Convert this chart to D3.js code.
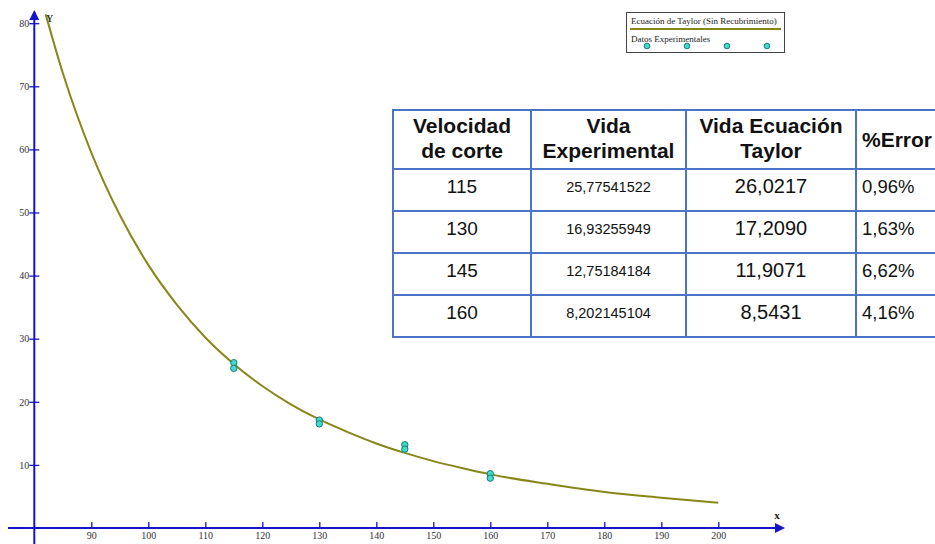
<!DOCTYPE html>
<html>
<head>
<meta charset="utf-8">
<script src="https://cdn.jsdelivr.net/npm/d3@7"></script>
<style>
  body { margin: 0; background: #fff; }
  svg { display: block; }
</style>
</head>
<body>
<div id="chart"></div>
<script>
// curve (Taylor equation, no coating)
const curveV = [82, 85, 90, 95, 100, 105, 110, 115, 120, 125, 130, 135, 140, 145, 150, 155, 160, 170, 180, 190, 200];
const curveT = [81.4, 72.1, 59.5, 49.6, 41.7, 35.4, 30.2, 26.0, 22.5, 19.6, 17.2, 15.2, 13.4, 11.9, 10.6, 9.5, 8.5, 7.0, 5.7, 4.8, 4.0];

// experimental points (two dots per speed)
const expV = [115, 115, 130, 130, 145, 145, 160, 160];
const expT = [26.2, 25.3, 17.1, 16.5, 13.2, 12.5, 8.6, 7.9];

const xTicks = [90, 100, 110, 120, 130, 140, 150, 160, 170, 180, 190, 200];
const yTicks = [10, 20, 30, 40, 50, 60, 70, 80];

// table
const tableHeader = [["Velocidad", "de corte"], ["Vida", "Experimental"], ["Vida Ecuación", "Taylor"], ["%Error"]];
const velocidad = ["115", "130", "145", "160"];
const vidaExperimental = ["25,77541522", "16,93255949", "12,75184184", "8,202145104"];
const vidaTaylor = ["26,0217", "17,2090", "11,9071", "8,5431"];
const error = ["0,96%", "1,63%", "6,62%", "4,16%"];

const legendLine = "Ecuación de Taylor (Sin Recubrimiento)";
const legendDots = "Datos Experimentales";

const W = 935, H = 544;
const axisColor = "#1414c8";
const curveColor = "#878719";
const serif = "'Liberation Serif', 'Times New Roman', serif";
const sans = "'Liberation Sans', Arial, sans-serif";

const svg = d3.select("#chart").append("svg")
    .attr("width", W)
    .attr("height", H);

const x = d3.scaleLinear().domain([80, 200]).range([34.3, 718.3]);
const y = d3.scaleLinear().domain([0, 80]).range([528, 23.2]);

// axis arrows
const defs = svg.append("defs");
defs.append("marker")
    .attr("id", "arrow")
    .attr("viewBox", "0 0 10 10")
    .attr("refX", 8).attr("refY", 5)
    .attr("markerWidth", 5).attr("markerHeight", 5)
    .attr("orient", "auto")
    .append("path")
    .attr("d", "M0,0L10,5L0,10z")
    .attr("fill", axisColor);

svg.append("line")
    .attr("x1", x(80)).attr("x2", x(80))
    .attr("y1", H).attr("y2", 12)
    .attr("stroke", axisColor).attr("stroke-width", 2)
    .attr("marker-end", "url(#arrow)");

svg.append("line")
    .attr("x1", 8).attr("x2", 783)
    .attr("y1", y(0)).attr("y2", y(0))
    .attr("stroke", axisColor).attr("stroke-width", 2)
    .attr("marker-end", "url(#arrow)");

// y axis ticks
const gy = svg.append("g")
    .attr("transform", `translate(${x(80)},0)`)
    .call(d3.axisLeft(y).tickValues(yTicks).tickSize(5).tickPadding(0));
gy.select(".domain").remove();
gy.selectAll(".tick line").attr("x1", 5).attr("stroke", axisColor).attr("stroke-width", 1.3);
gy.selectAll(".tick text")
    .style("font-family", serif).style("font-size", "10px").attr("fill", "#333");

// x axis ticks
const gx = svg.append("g")
    .attr("transform", `translate(0,${y(0)})`)
    .call(d3.axisBottom(x).tickValues(xTicks).tickSize(-6).tickPadding(4));
gx.select(".domain").remove();
gx.selectAll(".tick line").attr("stroke", axisColor).attr("stroke-width", 1.3);
gx.selectAll(".tick text")
    .style("font-family", serif).style("font-size", "10px").attr("fill", "#333");

// axis names
svg.append("text")
    .attr("x", 46).attr("y", 22)
    .style("font-family", serif).style("font-size", "10px").style("font-weight", "bold")
    .attr("fill", "#333")
    .text("Y");
svg.append("text")
    .attr("x", 777).attr("y", 519)
    .attr("text-anchor", "middle")
    .style("font-family", serif).style("font-size", "11px").style("font-weight", "bold")
    .attr("fill", "#222")
    .text("x");

// Taylor curve
const curve = curveV.map((v, i) => ({ v: v, t: curveT[i] }));
svg.append("path")
    .datum(curve)
    .attr("fill", "none")
    .attr("stroke", curveColor)
    .attr("stroke-width", 2)
    .attr("d", d3.line().x(d => x(d.v)).y(d => y(d.t)).curve(d3.curveMonotoneX));

// experimental dots
svg.selectAll(".dot")
    .data(expV.map((v, i) => ({ v: v, t: expT[i] })))
    .enter().append("circle")
    .attr("class", "dot")
    .attr("cx", d => x(d.v))
    .attr("cy", d => y(d.t))
    .attr("r", 3.2)
    .attr("fill", "#3fd9d0")
    .attr("stroke", "#1c7a78")
    .attr("stroke-width", 1);

// legend
const lg = svg.append("g");
lg.append("rect")
    .attr("x", 626.5).attr("y", 12.5)
    .attr("width", 158).attr("height", 40)
    .attr("fill", "#fff").attr("stroke", "#444").attr("stroke-width", 1);
lg.append("text")
    .attr("x", 631).attr("y", 24)
    .style("font-family", serif).style("font-size", "9px").attr("fill", "#222")
    .text(legendLine);
lg.append("line")
    .attr("x1", 630).attr("x2", 781)
    .attr("y1", 29).attr("y2", 29)
    .attr("stroke", curveColor).attr("stroke-width", 2);
lg.append("text")
    .attr("x", 631).attr("y", 42)
    .style("font-family", serif).style("font-size", "9px").attr("fill", "#222")
    .text(legendDots);
lg.selectAll(".ldot")
    .data([647, 687, 727, 767])
    .enter().append("circle")
    .attr("cx", d => d).attr("cy", 46)
    .attr("r", 2.8)
    .attr("fill", "#3fd9d0").attr("stroke", "#1c7a78").attr("stroke-width", 1);

// table
const colX = [393, 531, 686, 856, 1000];
const rowY = [110, 169, 211, 253, 295, 337];
const tableBlue = "#4a74c6";
const tg = svg.append("g");
tg.append("rect")
    .attr("x", colX[0]).attr("y", rowY[0])
    .attr("width", colX[4] - colX[0]).attr("height", rowY[5] - rowY[0])
    .attr("fill", "#fff");
rowY.forEach(ry => {
    tg.append("line")
        .attr("x1", colX[0]).attr("x2", colX[4])
        .attr("y1", ry).attr("y2", ry)
        .attr("stroke", tableBlue).attr("stroke-width", 2);
});
colX.slice(0, 4).forEach(cx => {
    tg.append("line")
        .attr("x1", cx).attr("x2", cx)
        .attr("y1", rowY[0] - 1).attr("y2", rowY[5] + 1)
        .attr("stroke", tableBlue).attr("stroke-width", 2);
});

const colMid = i => (colX[i] + colX[i + 1]) / 2;

tableHeader.forEach((lines, i) => {
    const t = tg.append("text")
        .attr("text-anchor", i === 3 ? "start" : "middle")
        .style("font-family", sans).style("font-size", "21px").style("font-weight", "bold")
        .attr("fill", "#111");
    if (lines.length === 2) {
        t.append("tspan").attr("x", colMid(i)).attr("y", 133).text(lines[0]);
        t.append("tspan").attr("x", colMid(i)).attr("y", 158).text(lines[1]);
    } else {
        t.append("tspan").attr("x", colX[3] + 6).attr("y", 147).text(lines[0]);
    }
});

const columns = [
    { values: velocidad, size: 19 },
    { values: vidaExperimental, size: 14.5 },
    { values: vidaTaylor, size: 20 },
    { values: error, size: 18.5 }
];
columns.forEach((col, i) => {
    tg.selectAll(".c" + i)
        .data(col.values)
        .enter().append("text")
        .attr("class", "c" + i)
        .attr("x", i === 3 ? colX[3] + 6 : colMid(i))
        .attr("y", (d, r) => rowY[r + 1] + (i === 1 ? 23 : 24))
        .attr("text-anchor", i === 3 ? "start" : "middle")
        .style("font-family", sans).style("font-size", col.size + "px")
        .attr("fill", "#111")
        .text(d => d);
});
</script>
</body>
</html>
